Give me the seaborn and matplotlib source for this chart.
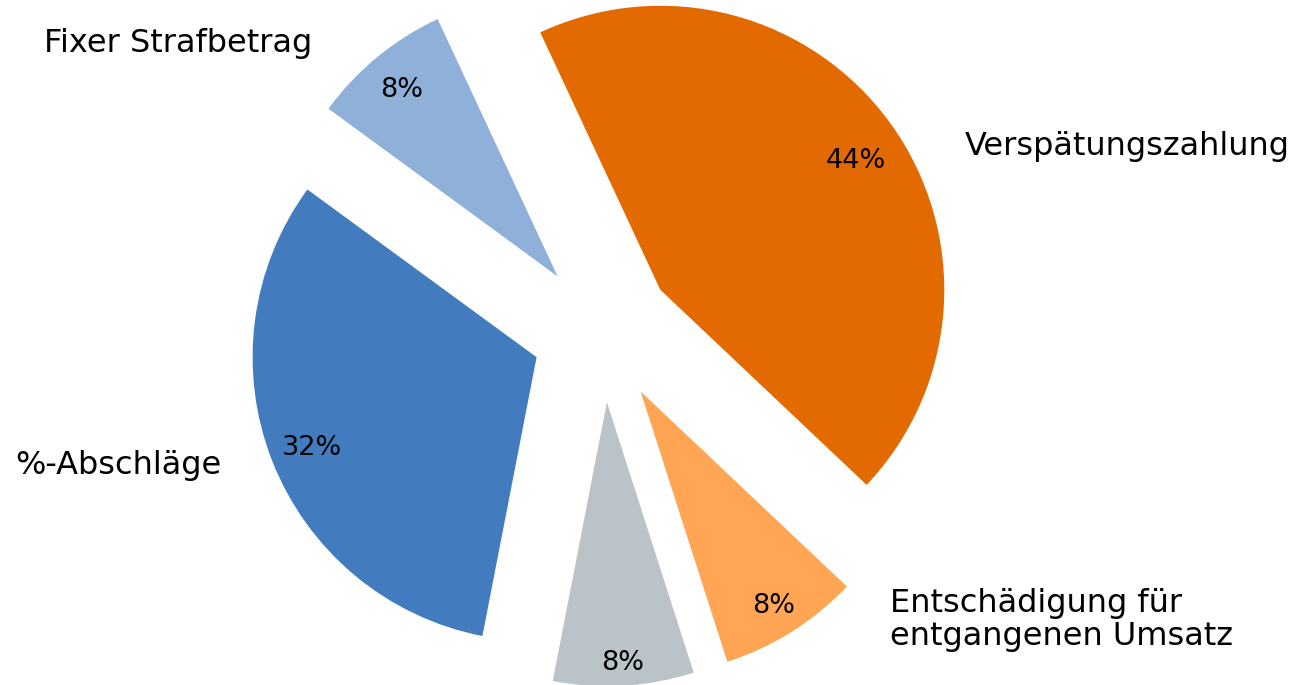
import matplotlib
matplotlib.use("Agg")
import matplotlib.pyplot as plt
import numpy as np
import seaborn as sns

# Shares of the contractual penalty types (percent)
categories = [
    "Verspätungszahlung",
    "Entschädigung für\nentgangenen Umsatz",
    "",
    "%-Abschläge",
    "Fixer Strafbetrag",
]
shares = [44, 8, 8, 32, 8]
colors = ["#E36A00", "#FFA553", "#BAC3C8", "#427CBF", "#8EB0D9"]

sns.set_theme(style="white")
plt.rcParams["font.family"] = ["DejaVu Sans"]

fig = plt.figure(figsize=(12.93, 6.85), dpi=100)
ax = fig.add_axes([0, 0, 1, 1])

wedges, texts, autotexts = ax.pie(
    shares,
    labels=categories,
    colors=colors,
    explode=[0.25] * len(shares),
    startangle=115,
    counterclock=False,
    autopct="%1.0f%%",
    pctdistance=0.86,
    wedgeprops=dict(linewidth=0),
    textprops=dict(fontsize=23, color="black"),
)

# Percentage labels: radial distance and angular nudge (deg) per wedge
pct_radius = [0.83, 0.88, 0.91, 0.85, 0.865]
pct_turn = [-1.7, 0.0, 0.0, 0.0, 0.0]
for w, t, r, d in zip(wedges, autotexts, pct_radius, pct_turn):
    mid = np.deg2rad((w.theta1 + w.theta2) / 2 + d)
    cx, cy = w.center
    t.set_position((cx + r * w.r * np.cos(mid), cy + r * w.r * np.sin(mid)))
    t.set_fontsize(19.5)
    t.set_va("center_baseline")

# Outer category labels
label_layout = [
    ((1.275, 0.649), "left"),
    ((1.012, -1.017), "left"),
    ((0.0, 0.0), "center"),
    ((-1.341, -0.471), "right"),
    ((-1.024, 1.015), "right"),
]
for t, (pos, ha) in zip(texts, label_layout):
    t.set_position(pos)
    t.set_ha(ha)
    t.set_va("center")
    t.set_linespacing(1.1)

# Axes scale: one radius unit spans 284 px
ax.set_aspect("auto")
ax.set_xlim(-602.7 / 284, (1293 - 602.7) / 284)
ax.set_ylim(-(685 - 331.3) / 284, 331.3 / 284)
ax.axis("off")

fig.savefig("out.png", dpi=100, facecolor="white")
